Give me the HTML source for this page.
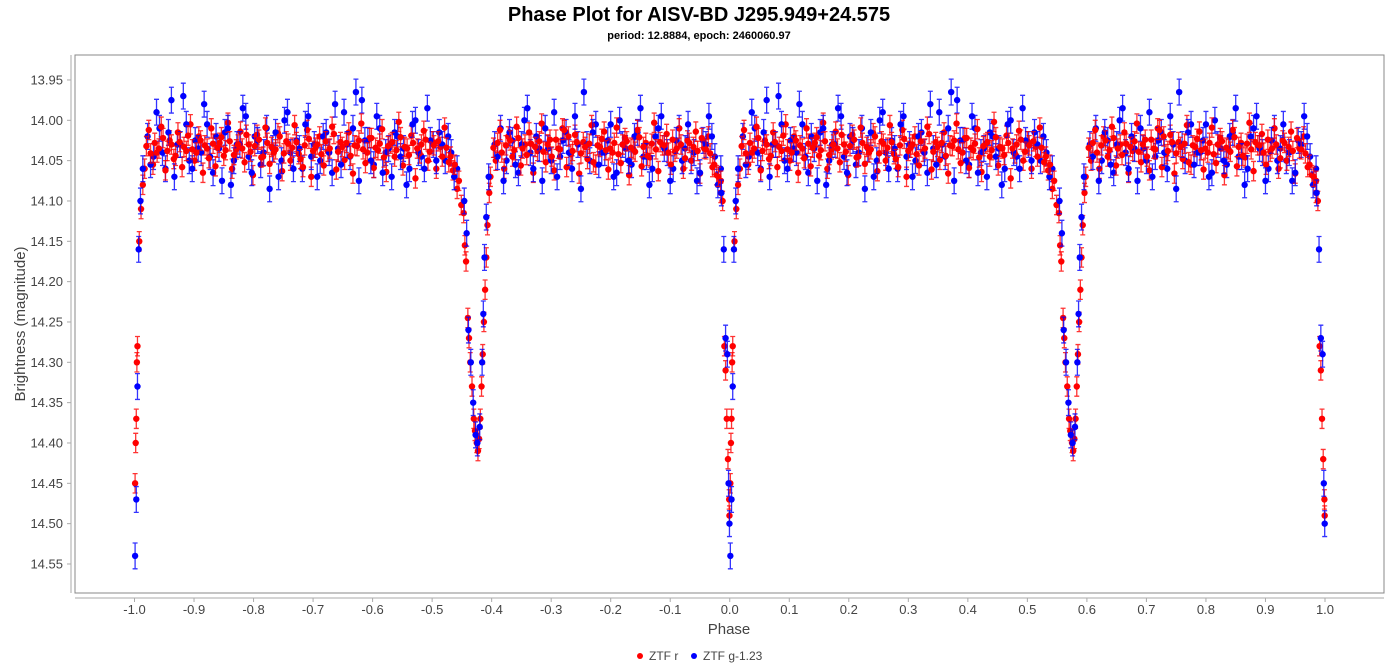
<!DOCTYPE html>
<html><head><meta charset="utf-8"><style>
body{margin:0;background:#fff;font-family:"Liberation Sans",sans-serif}
svg{display:block}
</style></head><body>
<svg id="chart" width="1397" height="667" xmlns="http://www.w3.org/2000/svg">
<text x="699" y="21" text-anchor="middle" font-size="20" font-weight="bold" fill="#000">Phase Plot for AISV-BD J295.949+24.575</text>
<text x="699" y="39" text-anchor="middle" font-size="11" font-weight="bold" fill="#000">period: 12.8884, epoch: 2460060.97</text>
<rect x="75" y="55" width="1309" height="538" fill="#fff" stroke="#888" stroke-width="1"/>
<line x1="71" y1="55" x2="71" y2="593" stroke="#aaa"/>
<line x1="75" y1="598" x2="1384" y2="598" stroke="#aaa"/>
<g id="yticks"></g><g id="xticks"></g><g id="marks"></g>
<text x="729" y="634" text-anchor="middle" font-size="15" fill="#444">Phase</text>
<text transform="translate(25,324) rotate(-90)" text-anchor="middle" font-size="15" fill="#444">Brightness (magnitude)</text>
<g>
<circle cx="640" cy="656" r="3" fill="#f00"/>
<text x="649" y="660" font-size="12" fill="#444">ZTF r</text>
<circle cx="694" cy="656" r="3" fill="#00f"/>
<text x="703" y="660" font-size="12" fill="#444">ZTF g-1.23</text>
</g>
</svg>
<script>
const yTicks=[13.95,14.00,14.05,14.10,14.15,14.20,14.25,14.30,14.35,14.40,14.45,14.50,14.55];
const xTicks=[-1.0,-0.9,-0.8,-0.7,-0.6,-0.5,-0.4,-0.3,-0.2,-0.1,0.0,0.1,0.2,0.3,0.4,0.5,0.6,0.7,0.8,0.9,1.0];
const redBasePhaseA=[0.020,0.027,0.034,0.041,0.048,0.055,0.062,0.069,0.076,0.083,0.090,0.097,0.104,0.111,0.118,0.125,0.132,0.139,0.146,0.153,0.160,0.167,0.174,0.181,0.188,0.195,0.202,0.209,0.216,0.223,0.230,0.237,0.244,0.251,0.258,0.265,0.272,0.279,0.286,0.293,0.300,0.307,0.314,0.321,0.328,0.335,0.342,0.349,0.356,0.363,0.370,0.377,0.384,0.391,0.398,0.405,0.412,0.419,0.426,0.433,0.440,0.447,0.454,0.461,0.468,0.475,0.482,0.489,0.496,0.503,0.510,0.517,0.524,0.531,0.538,0.545];
const redBaseMagA=[14.032,14.041,14.028,14.035,14.022,14.038,14.030,14.044,14.027,14.033,14.019,14.036,14.040,14.025,14.031,14.047,14.029,14.034,14.021,14.037,14.026,14.043,14.030,14.035,14.018,14.039,14.032,14.024,14.045,14.028,14.033,14.036,14.020,14.041,14.029,14.034,14.027,14.048,14.031,14.023,14.038,14.030,14.042,14.026,14.035,14.017,14.039,14.033,14.028,14.044,14.031,14.025,14.036,14.040,14.022,14.034,14.029,14.046,14.032,14.027,14.037,14.021,14.033,14.043,14.028,14.035,14.030,14.024,14.039,14.031,14.026,14.045,14.034,14.045,14.055,14.075];
const redBasePhaseB=[0.603,0.610,0.617,0.624,0.631,0.638,0.645,0.652,0.659,0.666,0.673,0.680,0.687,0.694,0.701,0.708,0.715,0.722,0.729,0.736,0.743,0.750,0.757,0.764,0.771,0.778,0.785,0.792,0.799,0.806,0.813,0.820,0.827,0.834,0.841,0.848,0.855,0.862,0.869,0.876,0.883,0.890,0.897,0.904,0.911,0.918,0.925,0.932,0.939,0.946,0.953,0.960,0.967,0.974,0.981];
const redBaseMagB=[14.034,14.028,14.040,14.031,14.025,14.037,14.022,14.035,14.043,14.029,14.033,14.026,14.039,14.030,14.045,14.024,14.036,14.012,14.020,14.038,14.027,14.041,14.033,14.029,14.052,14.031,14.023,14.037,14.035,14.028,14.042,14.030,14.026,14.034,14.039,14.021,14.033,14.044,14.029,14.036,14.027,14.031,14.040,14.024,14.035,14.030,14.047,14.028,14.033,14.038,14.022,14.036,14.041,14.055,14.070];
const redExtraPhaseA=[0.024,0.031,0.038,0.045,0.052,0.059,0.066,0.073,0.080,0.087,0.094,0.101,0.108,0.115,0.122,0.129,0.136,0.143,0.150,0.157,0.164,0.171,0.178,0.185,0.192,0.199,0.206,0.213,0.220,0.227,0.234,0.241,0.248,0.255,0.262,0.269,0.276,0.283,0.290,0.297,0.304,0.311,0.318,0.325,0.332,0.339,0.346,0.353,0.360,0.367,0.374,0.381,0.388,0.395,0.402,0.409,0.416,0.423,0.430,0.437,0.444,0.451,0.458,0.465,0.472,0.479,0.486,0.493,0.500,0.507,0.514,0.521,0.528,0.535,0.542,0.549];
const redExtraMagA=[14.012,14.055,14.040,14.008,14.062,14.025,14.048,14.015,14.058,14.038,14.005,14.050,14.020,14.065,14.035,14.010,14.057,14.028,14.044,14.003,14.060,14.036,14.014,14.052,14.030,14.068,14.018,14.046,14.009,14.054,14.040,14.016,14.063,14.026,14.050,14.006,14.042,14.058,14.012,14.070,14.034,14.020,14.056,14.039,14.008,14.061,14.027,14.049,14.015,14.066,14.032,14.004,14.053,14.022,14.059,14.037,14.011,14.064,14.029,14.045,14.002,14.056,14.035,14.019,14.072,14.041,14.013,14.050,14.026,14.060,14.033,14.009,14.052,14.062,14.085,14.105];
const redExtraPhaseB=[0.607,0.614,0.621,0.628,0.635,0.642,0.649,0.656,0.663,0.670,0.677,0.684,0.691,0.698,0.705,0.712,0.719,0.726,0.733,0.740,0.747,0.754,0.761,0.768,0.775,0.782,0.789,0.796,0.803,0.810,0.817,0.824,0.831,0.838,0.845,0.852,0.859,0.866,0.873,0.880,0.887,0.894,0.901,0.908,0.915,0.922,0.929,0.936,0.943,0.950,0.957,0.964,0.971,0.978,0.985];
const redExtraMagB=[14.050,14.012,14.060,14.020,14.045,14.008,14.056,14.030,14.015,14.065,14.038,14.004,14.052,14.024,14.062,14.035,14.010,14.058,14.042,14.018,14.066,14.027,14.048,14.006,14.055,14.033,14.014,14.061,14.040,14.009,14.053,14.022,14.068,14.036,14.012,14.057,14.028,14.046,14.003,14.063,14.031,14.017,14.055,14.039,14.010,14.060,14.025,14.050,14.014,14.066,14.035,14.020,14.058,14.068,14.090];
const redEclPhase=[0.553,0.555,0.557,0.560,0.562,0.564,0.567,0.570,0.572,0.575,0.577,0.579,0.581,0.583,0.585,0.587,0.589,0.591,0.593,0.596,0.598,0.985,0.988,0.991,0.993,0.995,0.997,0.999,0.9995,0.001,0.002,0.003,0.004,0.005,0.008,0.011,0.014,0.017];
const redEclMag=[14.115,14.155,14.175,14.245,14.27,14.30,14.33,14.37,14.385,14.40,14.41,14.395,14.37,14.33,14.29,14.25,14.21,14.17,14.13,14.09,14.07,14.075,14.10,14.28,14.31,14.37,14.42,14.47,14.49,14.45,14.40,14.37,14.30,14.28,14.15,14.11,14.08,14.06];
const blueBasePhaseA=[0.022,0.032,0.042,0.052,0.062,0.072,0.082,0.092,0.102,0.112,0.122,0.132,0.142,0.152,0.162,0.172,0.182,0.192,0.202,0.212,0.222,0.232,0.242,0.252,0.262,0.272,0.282,0.292,0.302,0.312,0.322,0.332,0.342,0.352,0.362,0.372,0.382,0.392,0.402,0.412,0.422,0.432,0.442,0.452,0.462,0.472,0.482,0.492,0.502,0.512,0.522,0.532,0.542];
const blueBaseMagA=[14.020,14.045,14.010,14.060,13.975,14.030,13.970,14.050,14.025,14.040,14.005,14.065,14.035,14.015,14.080,14.030,13.985,14.045,14.020,14.055,14.010,14.035,14.070,14.000,14.040,14.025,14.060,13.995,14.030,14.050,14.015,14.065,14.035,13.990,14.045,13.965,13.975,14.025,14.055,14.010,14.040,14.070,14.020,14.035,14.060,14.000,14.045,13.985,14.030,14.015,14.050,14.040,14.060];
const blueBasePhaseB=[0.605,0.615,0.625,0.635,0.645,0.655,0.665,0.675,0.685,0.695,0.705,0.715,0.725,0.735,0.745,0.755,0.765,0.775,0.785,0.795,0.805,0.815,0.825,0.835,0.845,0.855,0.865,0.875,0.885,0.895,0.905,0.915,0.925,0.935,0.945,0.955,0.965,0.975,0.985];
const blueBaseMagB=[14.030,14.010,14.050,14.025,14.065,14.000,14.040,14.020,14.075,14.035,13.990,14.045,14.015,14.060,14.030,13.965,14.050,14.005,14.040,14.025,14.070,14.000,14.035,14.055,14.015,14.045,14.080,14.020,13.995,14.040,14.060,14.010,14.035,14.050,14.075,14.025,13.995,14.045,14.060];
const blueExtraPhaseA=[0.027,0.037,0.047,0.057,0.067,0.077,0.087,0.097,0.107,0.117,0.127,0.137,0.147,0.157,0.167,0.177,0.187,0.197,0.207,0.217,0.227,0.237,0.247,0.257,0.267,0.277,0.287,0.297,0.307,0.317,0.327,0.337,0.347,0.357,0.367,0.377,0.387,0.397,0.407,0.417,0.427,0.437,0.447,0.457,0.467,0.477,0.487,0.497,0.507,0.517,0.527,0.537];
const blueExtraMagA=[14.055,13.990,14.040,14.015,14.070,14.030,14.005,14.060,14.035,13.980,14.045,14.020,14.075,14.010,14.050,14.030,13.995,14.065,14.025,14.040,14.085,14.015,14.050,13.990,14.060,14.035,14.005,14.045,14.070,14.020,14.040,13.980,14.055,14.030,14.010,14.075,14.025,14.050,13.995,14.065,14.035,14.015,14.045,14.080,14.005,14.040,14.060,14.025,14.050,14.030,14.020,14.070];
const blueExtraPhaseB=[0.610,0.620,0.630,0.640,0.650,0.660,0.670,0.680,0.690,0.700,0.710,0.720,0.730,0.740,0.750,0.760,0.770,0.780,0.790,0.800,0.810,0.820,0.830,0.840,0.850,0.860,0.870,0.880,0.890,0.900,0.910,0.920,0.930,0.940,0.950,0.960,0.970,0.980];
const blueExtraMagB=[14.045,14.075,14.015,14.055,14.030,13.985,14.060,14.035,14.010,14.050,14.070,14.025,14.040,13.995,14.085,14.030,14.015,14.055,14.040,14.005,14.065,14.030,14.050,14.020,13.985,14.045,14.060,14.010,14.035,14.075,14.025,14.050,14.005,14.040,14.065,14.030,14.020,14.080];
const blueEclPhase=[0.554,0.558,0.561,0.565,0.569,0.573,0.576,0.580,0.584,0.586,0.588,0.591,0.595,0.986,0.990,0.993,0.996,0.998,0.9995,0.001,0.003,0.005,0.007,0.010,0.014];
const blueEclMag=[14.10,14.14,14.26,14.30,14.35,14.39,14.40,14.38,14.30,14.24,14.17,14.12,14.07,14.09,14.16,14.27,14.29,14.45,14.50,14.54,14.47,14.33,14.16,14.10,14.06];
const redErr=0.012, blueErr=0.016;

const NS="http://www.w3.org/2000/svg";
const xScale=p=>729.75+p*595.25;
const yScale=m=>120.3+(m-14.0)*806.7;
function mk(tag,attrs,parent){const e=document.createElementNS(NS,tag);for(const k in attrs)e.setAttribute(k,attrs[k]);parent.appendChild(e);return e;}
const yg=document.getElementById('yticks'),xg=document.getElementById('xticks'),mg=document.getElementById('marks');
yTicks.forEach(v=>{const y=yScale(v);
 const t=mk('line',{x1:67,x2:71,y1:y,y2:y,stroke:'#aaa'},yg);
 
 
 const l=mk('text',{x:63,y:y+4.5,'text-anchor':'end','font-size':13,fill:'#444'},yg);l.textContent=v.toFixed(2);
 
 });
xTicks.forEach(v=>{const x=xScale(v);
 const t=mk('line',{x1:x,x2:x,y1:598,y2:602,stroke:'#aaa'},xg);
 
 
 const l=mk('text',{x:x,y:614,'text-anchor':'middle','font-size':13,fill:'#444'},xg);l.textContent=v.toFixed(1);
 
 });
function series(phases,mags,err,color,name){
 const g=mk('g',{},mg);
 
 
 const n=Math.min(phases.length,mags.length);
 for(let i=0;i<n;i++){[phases[i],phases[i]-1].forEach(p=>{
  const x=xScale(p),y=yScale(mags[i]),y1=yScale(mags[i]-err),y2=yScale(mags[i]+err);
  mk('path',{d:`M${x},${y1}V${y2}M${x-2.5},${y1}H${x+2.5}M${x-2.5},${y2}H${x+2.5}`,stroke:color,'stroke-width':1.3,'stroke-opacity':0.8,fill:'none'},g);
  const c=mk('circle',{cx:x,cy:y,r:3.2,fill:color},g);
  
  
 });}
}
series(blueBasePhaseA,blueBaseMagA,blueErr,'#0000ff','series-ztf-g');
series(blueBasePhaseB,blueBaseMagB,blueErr,'#0000ff','series-ztf-g');
series(redExtraPhaseA,redExtraMagA,redErr,'#ff0000','series-ztf-r');
series(redExtraPhaseB,redExtraMagB,redErr,'#ff0000','series-ztf-r');
series(blueExtraPhaseA,blueExtraMagA,blueErr,'#0000ff','series-ztf-g');
series(blueExtraPhaseB,blueExtraMagB,blueErr,'#0000ff','series-ztf-g');
series(redBasePhaseA,redBaseMagA,redErr,'#ff0000','series-ztf-r');
series(redBasePhaseB,redBaseMagB,redErr,'#ff0000','series-ztf-r');
series(redEclPhase,redEclMag,redErr,'#ff0000','series-ztf-r-eclipse');
series(blueEclPhase,blueEclMag,blueErr,'#0000ff','series-ztf-g-eclipse');
</script>
</body></html>
